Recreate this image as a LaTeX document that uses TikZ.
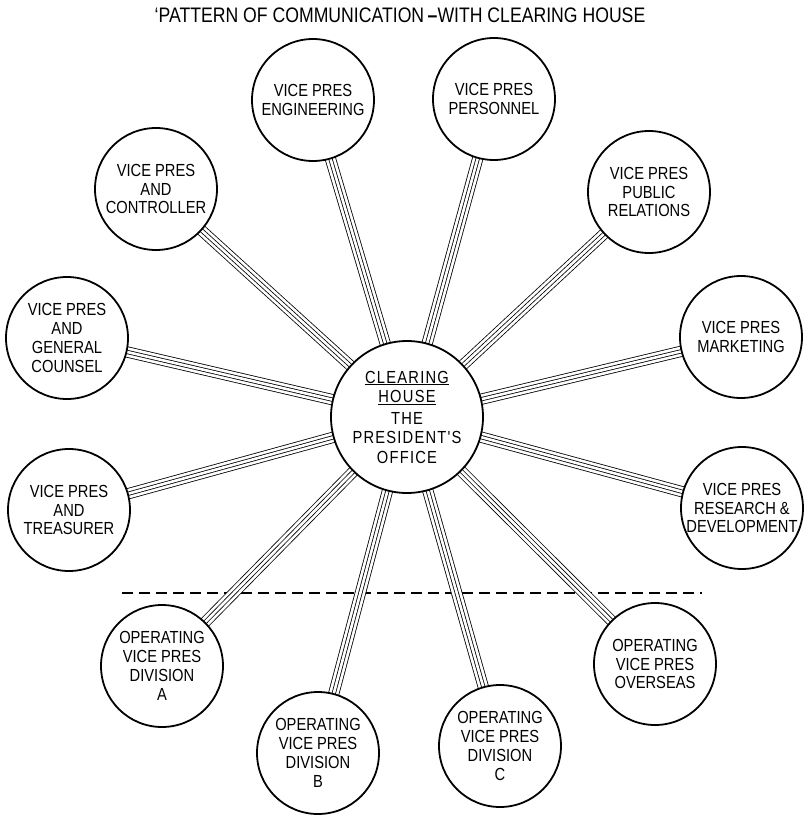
\documentclass[tikz,border=0pt]{standalone}
\usepackage{fontspec}
\setmainfont{Liberation Sans}[FakeStretch=0.84]
\newfontfamily\hubfont{Liberation Sans}[FakeStretch=0.84, LetterSpace=7]
\usetikzlibrary{backgrounds}
\begin{document}
\begin{tikzpicture}[x=1pt,y=-1pt,
  office/.style={circle, draw, line width=1.8pt, fill=white,
    minimum size=122pt, inner sep=0pt, align=center,
    font=\fontsize{17.5}{18.8}\selectfont},
  hub/.style={office, minimum size=152pt, font=\hubfont\fontsize{17.5}{19.5}\selectfont},
  band/.style={draw, line width=0.8pt, double=white, double distance=9.6pt,
    postaction={draw, line width=0.8pt, double=white, double distance=2.6pt}},
  divider/.style={line width=1.8pt, dash pattern=on 11pt off 6pt},
  heading/.style={font=\fontsize{21}{23}\selectfont}]
\useasboundingbox (0,0) rectangle (808,817);

% heading
\node[heading] (title) at (400,15) {‘PATTERN OF COMMUNICATION\,{\bfseries –}WITH CLEARING HOUSE};

% the clearing house and the twelve offices round it
\node[hub] (hub) at (407,417) {\underline{CLEARING}\\\underline{HOUSE}\\[2pt]THE\\PRESIDENT'S\\OFFICE};
\node[office] (eng) at (313,100) {VICE PRES\\ENGINEERING};
\node[office] (per) at (494,99)  {VICE PRES\\PERSONNEL};
\node[office] (pr)  at (649,192) {VICE PRES\\PUBLIC\\RELATIONS};
\node[office] (mkt) at (741,337) {VICE PRES\\MARKETING};
\node[office] (rd)  at (742,508) {VICE PRES\\RESEARCH \&\\DEVELOPMENT};
\node[office] (ovs) at (655,664) {OPERATING\\VICE PRES\\OVERSEAS};
\node[office] (dvc) at (500,746) {OPERATING\\VICE PRES\\DIVISION\\C};
\node[office] (dvb) at (318,753) {OPERATING\\VICE PRES\\DIVISION\\B};
\node[office] (dva) at (162,666) {OPERATING\\VICE PRES\\DIVISION\\A};
\node[office] (tre) at (69,510)  {VICE PRES\\AND\\TREASURER};
\node[office] (gc)  at (67,338)  {VICE PRES\\AND\\GENERAL\\COUNSEL};
\node[office] (ctl) at (156,189) {VICE PRES\\AND\\CONTROLLER};

\coordinate (cutL) at (122,593);
\coordinate (cutR) at (702,593);

\begin{scope}[on background layer]
  \draw[divider] (cutL) -- (cutR);
  \foreach \o in {eng,per,pr,mkt,rd,ovs,dvc,dvb,dva,tre,gc,ctl}
    \path[band] (hub.center) -- (\o.center);
\end{scope}
\end{tikzpicture}
\end{document}
